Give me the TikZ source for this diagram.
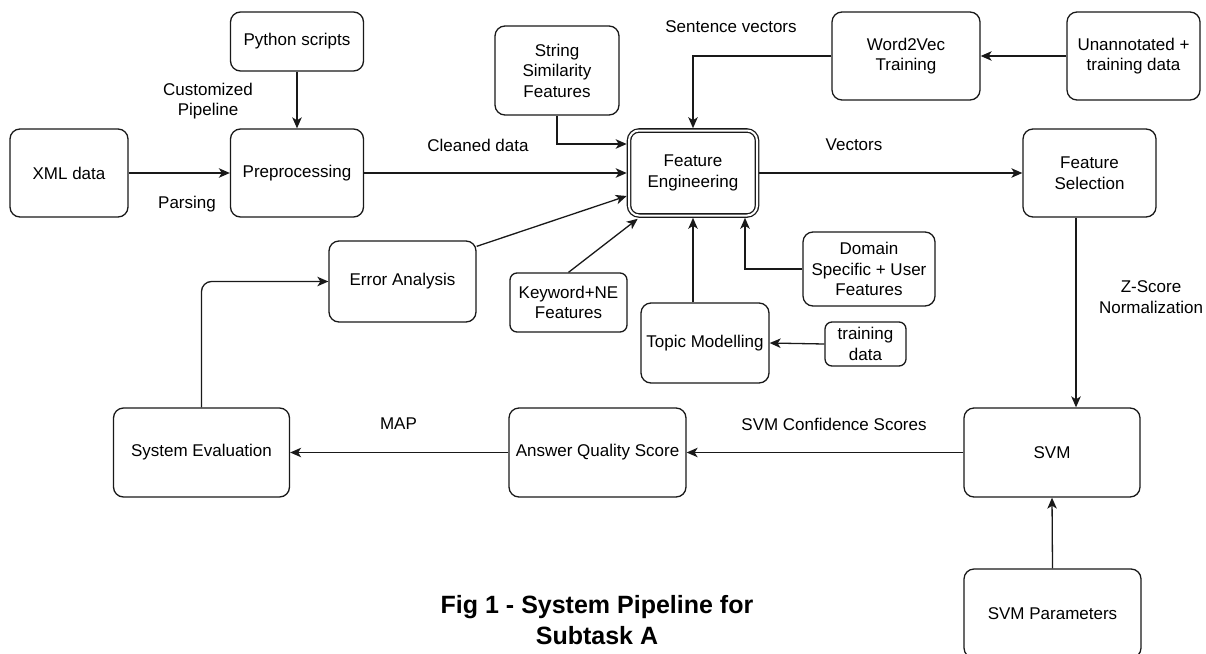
\documentclass[tikz,border=0pt]{standalone}
\usepackage{fontspec}
\setmainfont{Liberation Sans}
\usetikzlibrary{arrows.meta,calc}
\begin{document}
\begin{tikzpicture}[x=1pt,y=-1pt,
  box/.style={draw=black!90, line width=1.3pt, rounded corners=10pt, inner sep=0pt, align=center, font=\fontsize{17}{20.5}\selectfont},
  smallbox/.style={box, rounded corners=7pt},
  lbl/.style={inner sep=0pt, align=center, font=\fontsize{17}{20.5}\selectfont},
  arr/.style={draw=black!90, line width=1.3pt, -{Stealth[length=11pt,width=9.5pt,inset=3pt]}},
]
\useasboundingbox (0,0) rectangle (1206,653);
\clip (0,0) rectangle (1206,653);

% nodes
\node[box, minimum width=133pt, minimum height=59pt] (py) at (297,41.5) {Python scripts};
\node[box, minimum width=118pt, minimum height=88pt] (xml) at (69,173) {XML data};
\node[box, minimum width=133pt, minimum height=88pt] (pre) at (297,173) {Preprocessing};
\node[box, minimum width=124pt, minimum height=89pt] (ss) at (557,70.5) {String\\Similarity\\Features};
\node[box, double, double distance=2pt, minimum width=128pt, minimum height=85pt, outer sep=2.3pt] (fe) at (693,173) {Feature\\Engineering};
\node[box, minimum width=148pt, minimum height=88pt] (w2v) at (906,56) {Word2Vec\\Training};
\node[box, minimum width=133pt, minimum height=88pt] (un) at (1133.5,56) {Unannotated +\\training data};
\node[box, minimum width=133pt, minimum height=88pt] (fs) at (1089.5,173) {Feature\\Selection};
\node[box, minimum width=147pt, minimum height=81pt] (ea) at (402.5,281.5) {Error Analysis};
\node[smallbox, minimum width=117pt, minimum height=59pt] (kw) at (568.5,302.5) {Keyword+NE\\Features};
\node[box, minimum width=132pt, minimum height=74pt] (dom) at (869,269) {Domain\\Specific + User\\Features};
\node[box, minimum width=128pt, minimum height=80pt] (tm) at (705,343) {Topic Modelling};
\node[smallbox, minimum width=81pt, minimum height=44pt] (td) at (865.5,344) {training\\data};
\node[box, minimum width=176pt, minimum height=89pt] (se) at (201.5,452.5) {System Evaluation};
\node[box, minimum width=177pt, minimum height=89pt] (aqs) at (597.5,452.5) {Answer Quality Score};
\node[box, minimum width=176pt, minimum height=89pt] (svm) at (1052,452.5) {SVM};
\node[box, minimum width=177pt, minimum height=89pt] (svmp) at (1052.5,613.5) {SVM Parameters};

% helper coordinates
\coordinate (y144) at (0,144);
\coordinate (x1076) at (1076,0);

% connectors
\draw[arr] (py.south) -- (pre.north);
\draw[arr] (xml.east) -- (pre.west);
\draw[arr] (pre.east) -- (fe.west);
\draw[arr] (ss.south) |- (fe.west |- y144);
\draw[arr] ([yshift=-6pt]ea.north east) -- ([yshift=-23pt]fe.west);
\draw[arr] (kw.north) -- ([xshift=11pt,yshift=-1pt]fe.south west);
\draw[arr] (w2v.west) -| (fe.north);
\draw[arr] (un.west) -- (w2v.east);
\draw[arr] (tm.north -| fe.south) -- (fe.south);
\draw[arr] (dom.west) -| ([xshift=52pt]fe.south);
\draw[arr] (td.west) -- (tm.east);
\draw[arr] (fe.east) -- (fs.west);
\draw[arr] (fs.south -| x1076) -- (svm.north -| x1076);
\draw[arr] (svmp.north) -- (svm.south);
\draw[arr] (svm.west) -- (aqs.east);
\draw[arr] (aqs.west) -- (se.east);
\draw[arr, rounded corners=10pt] (se.north) |- (ea.west);

% labels
\node[lbl] (l1) at (208,101) {Customized\\Pipeline};
\node[lbl] (l2) at (187,204) {Parsing};
\node[lbl] (l3) at (478,145) {Cleaned data};
\node[lbl] (l4) at (731,27) {Sentence vectors};
\node[lbl] (l5) at (854,145) {Vectors};
\node[lbl] (l6) at (1151,297) {Z-Score\\Normalization};
\node[lbl] (l7) at (834,424) {SVM Confidence Scores};
\node[lbl] (l8) at (398.5,424) {MAP};
\node[lbl, font=\fontsize{25}{31}\selectfont\bfseries] (cap) at (597,620) {Fig 1 - System Pipeline for\\Subtask A};
\end{tikzpicture}
\end{document}
